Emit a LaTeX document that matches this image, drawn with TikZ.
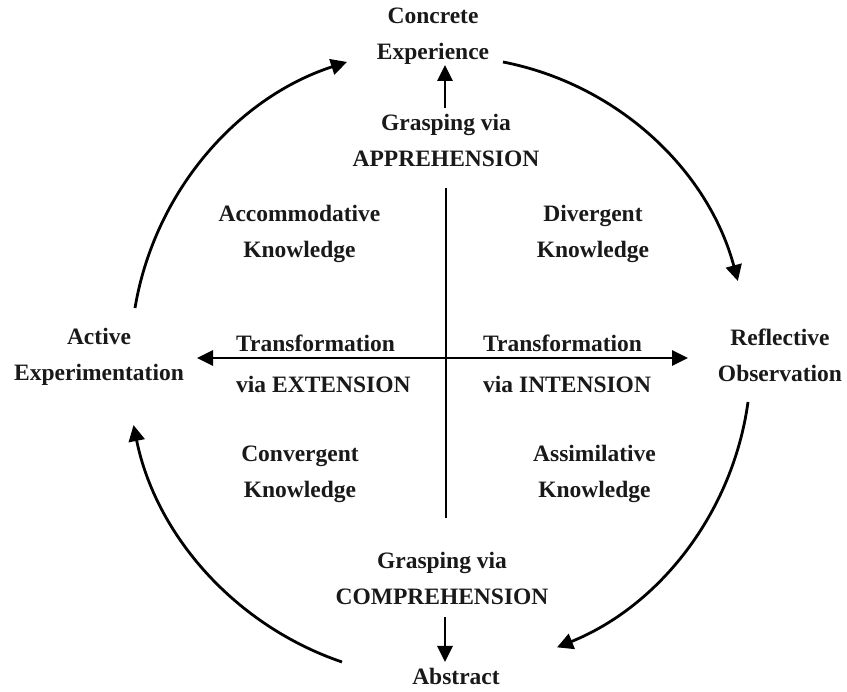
\documentclass[tikz,border=0pt]{standalone}
\usepackage{fontspec}
\setmainfont{Liberation Serif}
\usetikzlibrary{arrows.meta}
\begin{document}
\begin{tikzpicture}[x=1pt,y=1pt,
  lbl/.style={font=\bfseries\fontsize{23.5}{36}\selectfont, align=center, inner sep=0pt, anchor=base, text=black!90},
  lblw/.style={lbl, anchor=base west},
  axis/.style={line width=2.8pt, -{Triangle[length=16pt,width=15pt]}},
  cyc/.style={line width=2.8pt, -{Triangle[length=16pt,width=16pt]}}]
\useasboundingbox (0,0) rectangle (847,692);
% labels (base anchor = baseline of the last line)
\node[lbl] (ce) at (433,632) {Concrete\\Experience};
\node[lbl] (ga) at (446,525) {Grasping via\\APPREHENSION};
\node[lbl] (acc) at (299.5,434) {Accommodative\\Knowledge};
\node[lbl] (div) at (593,434) {Divergent\\Knowledge};
\node[lbl] (ae) at (99,311) {Active\\Experimentation};
\node[lbl] (ro) at (780,310) {Reflective\\Observation};
\node[lblw] (tl) at (236,340) {Transformation};
\node[lblw] (vl) at (236,299) {via EXTENSION};
\node[lblw] (tr) at (483,340) {Transformation};
\node[lblw] (vr) at (483,299) {via INTENSION};
\node[lbl] (con) at (300,194) {Convergent\\Knowledge};
\node[lbl] (ass) at (594.5,194) {Assimilative\\Knowledge};
\node[lbl] (gc) at (442,87) {Grasping via\\COMPREHENSION};
\node[lbl] (ab) at (456,7) {Abstract};
% axes
\coordinate (vt) at (446,504);
\coordinate (vb) at (446,174);
\coordinate (hc) at (446,334);
\coordinate (hl) at (197,334);
\coordinate (hr) at (688,334);
\draw[line width=2.8pt] (vt) -- (vb);
\draw[axis] (hc) -- (hl);
\draw[axis] (hc) -- (hr);
% small arrows
\coordinate (ua) at (445,584);
\coordinate (ut) at (445,627);
\coordinate (da) at (445,75);
\coordinate (dt) at (445,30);
\draw[axis] (ua) -- (ut);
\draw[axis] (da) -- (dt);
% cycle arcs
\coordinate (c1) at (135,384);
\coordinate (c2) at (503,630);
\coordinate (c3) at (748,290);
\coordinate (c4) at (342,30);
\draw[cyc] (c1) arc[start angle=170.5, end angle=108, radius=313];
\draw[cyc] (c2) arc[start angle=79, end angle=15, radius=303];
\draw[cyc] (c3) arc[start angle=-7.8, end angle=-68, radius=310];
\draw[cyc] (c4) arc[start angle=-108.8, end angle=-168.5, radius=317];
\end{tikzpicture}
\end{document}
